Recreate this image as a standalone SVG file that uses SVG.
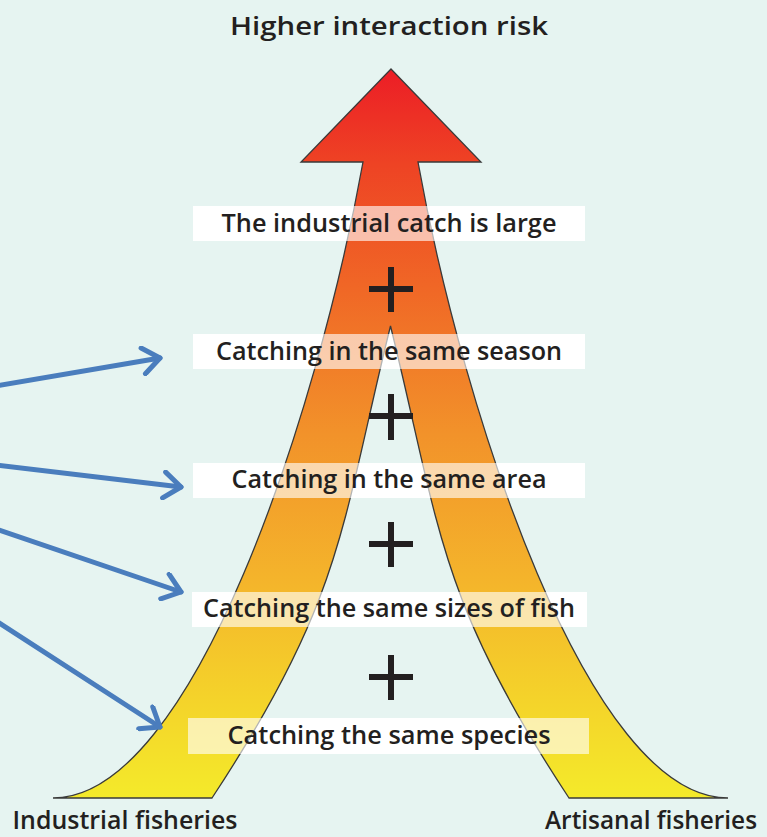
<svg xmlns="http://www.w3.org/2000/svg" width="767" height="837" viewBox="0 0 767 837">
  <defs>
    <linearGradient id="riskGrad" gradientUnits="userSpaceOnUse" x1="0" y1="69" x2="0" y2="798">
      <stop offset="0" stop-color="#EC1D26"/>
      <stop offset="0.13" stop-color="#EE4324"/>
      <stop offset="0.3" stop-color="#F06726"/>
      <stop offset="0.5" stop-color="#F2922A"/>
      <stop offset="0.7" stop-color="#F4B42B"/>
      <stop offset="0.87" stop-color="#F4D42A"/>
      <stop offset="1" stop-color="#F4EA2A"/>
    </linearGradient>
    <marker id="chev" viewBox="0 0 24 30" refX="20" refY="15" markerWidth="24" markerHeight="30" markerUnits="userSpaceOnUse" orient="auto">
      <path d="M3,2 L20,15 L3,28" fill="none" stroke="#4A7DBD" stroke-width="5" stroke-linecap="round" stroke-linejoin="round"/>
    </marker>
    <style>
      .lbl { font-family: "Open Sans", "Liberation Sans", sans-serif; font-weight: 600; font-size: 26px; fill: #231F20; text-anchor: middle; }
      .base { fill: #FFFFFF; }
      .box { fill: #FFFFFF; fill-opacity: 0.62; }
      .plus { stroke: #231F20; stroke-width: 6; fill: none; }
      .conn { stroke: #4A7DBD; stroke-width: 5; fill: none; stroke-linecap: round; marker-end: url(#chev); }
    </style>
  </defs>
  <rect x="0" y="0" width="767" height="837" fill="#E6F4F1"/>

  <g id="title">
    <text class="lbl" x="389" y="35" font-size="28" textLength="318" lengthAdjust="spacingAndGlyphs">Higher interaction risk</text>
  </g>

  <g id="label-backs">
    <rect class="base" x="193" y="206" width="392" height="35"/>
    <rect class="base" x="193" y="334" width="392" height="35"/>
    <rect class="base" x="193" y="463" width="392" height="35"/>
    <rect class="base" x="192" y="592" width="395" height="35"/>
    <rect class="base" x="188" y="718" width="401" height="36"/>
  </g>

  <g id="risk-arrow">
    <path d="M391,69 L481,162 L418,162 C463,412 588,798 728,798 L569,798 C437,598 440,526 390.5,326 C341,526 344,598 212,798 L53,798 C193,798 318,412 363,162 L301,162 Z" fill="url(#riskGrad)" stroke="#3A3A3A" stroke-width="1.3" stroke-linejoin="miter"/>
  </g>

  <g id="connectors">
    <line class="conn" x1="-4" y1="386" x2="160" y2="358"/>
    <line class="conn" x1="-4" y1="465" x2="181" y2="487"/>
    <line class="conn" x1="-4" y1="529" x2="181" y2="592"/>
    <line class="conn" x1="-4" y1="621" x2="160" y2="727"/>
  </g>

  <g id="label-large">
    <rect class="box" x="193" y="206" width="392" height="35"/>
    <text class="lbl" x="389" y="232" textLength="335" lengthAdjust="spacingAndGlyphs">The industrial catch is large</text>
  </g>
  <g id="plus-1"><path class="plus" d="M369,289 H413 M391,267 V312"/></g>

  <g id="label-season">
    <rect class="box" x="193" y="334" width="392" height="35"/>
    <text class="lbl" x="389" y="360" textLength="346" lengthAdjust="spacingAndGlyphs">Catching in the same season</text>
  </g>
  <g id="plus-2"><path class="plus" d="M369,416 H413 M391,394 V440"/></g>

  <g id="label-area">
    <rect class="box" x="193" y="463" width="392" height="35"/>
    <text class="lbl" x="389" y="488" textLength="315" lengthAdjust="spacingAndGlyphs">Catching in the same area</text>
  </g>
  <g id="plus-3"><path class="plus" d="M369,544 H413 M391,522 V567"/></g>

  <g id="label-sizes">
    <rect class="box" x="192" y="592" width="395" height="35"/>
    <text class="lbl" x="389" y="617" textLength="372" lengthAdjust="spacingAndGlyphs">Catching the same sizes of fish</text>
  </g>
  <g id="plus-4"><path class="plus" d="M369,677 H413 M391,655 V700"/></g>

  <g id="label-species">
    <rect class="box" x="188" y="718" width="401" height="36"/>
    <text class="lbl" x="389" y="744" textLength="323" lengthAdjust="spacingAndGlyphs">Catching the same species</text>
  </g>

  <g id="label-industrial">
    <text class="lbl" x="125" y="829" font-size="24" textLength="225" lengthAdjust="spacingAndGlyphs">Industrial fisheries</text>
  </g>
  <g id="label-artisanal">
    <text class="lbl" x="651" y="829" font-size="23" textLength="212" lengthAdjust="spacingAndGlyphs">Artisanal fisheries</text>
  </g>
</svg>
